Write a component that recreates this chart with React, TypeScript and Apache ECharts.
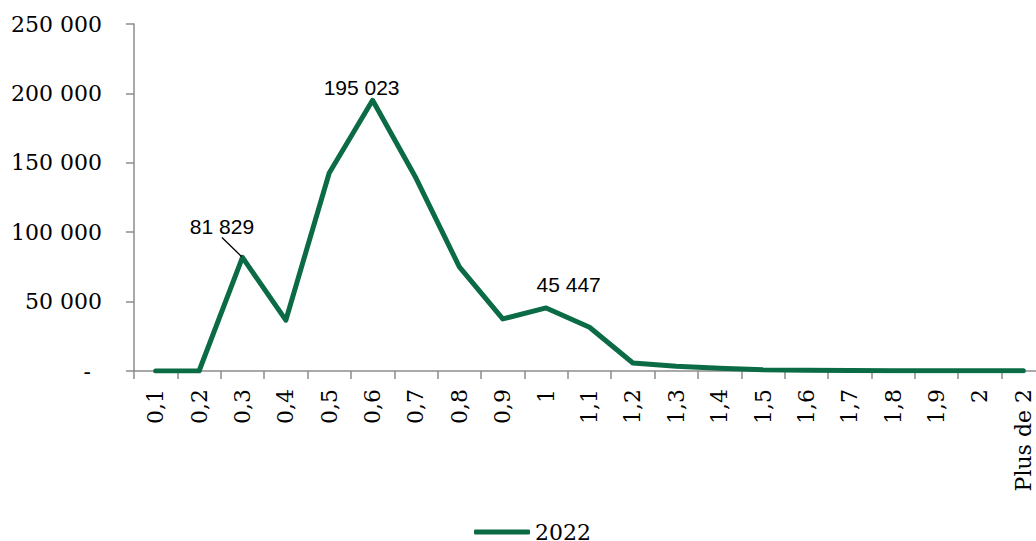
import React, { useEffect, useRef } from "react";
import * as echarts from "echarts";

const categories = ["0,1", "0,2", "0,3", "0,4", "0,5", "0,6", "0,7", "0,8", "0,9", "1", "1,1", "1,2", "1,3", "1,4", "1,5", "1,6", "1,7", "1,8", "1,9", "2", "Plus de 2"];
const values2022 = [0, 0, 81829, 36600, 142700, 195023, 139000, 75000, 37500, 45447, 31500, 5800, 3500, 2000, 900, 500, 300, 200, 100, 100, 100];
const labelledIndices = [2, 5, 9];
const seriesName = "2022";

const fmt = (v: number) => (v === 0 ? "-\u2002" : String(Math.round(v)).replace(/\B(?=(\d{3})+(?!\d))/g, " "));

// label placement relative to its point (dx, dy of label centre)
const labelShift: Record<number, [number, number]> = { 2: [-20.5, -30.5], 5: [-11, -13], 9: [22.5, -23.5] };

export default function App() {
  const ref = useRef<HTMLDivElement>(null);
  useEffect(() => {
    if (!ref.current) return;
    const chart = echarts.init(ref.current, undefined, { renderer: "svg" });
    const serif = "DejaVu Serif";
    const data = values2022.map((v, i) => {
      if (!labelledIndices.includes(i)) return v;
      const item: any = {
        value: v,
        label: { show: true, position: "top", formatter: fmt(v), fontFamily: "Liberation Sans", fontSize: 21, color: "#000" },
      };
      if (i === 2) {
        item.labelLine = { show: true, lineStyle: { color: "#000", width: 1.3 } };
      }
      return item;
    });
    chart.setOption({
      animation: false,
      grid: { left: 134, width: 911, top: 24, bottom: 170, outerBoundsMode: "none", containLabel: false },
      legend: {
        data: [{ name: seriesName, icon: "roundRect" }],
        top: 516,
        left: 469,
        itemWidth: 56,
        itemHeight: 5,
        itemGap: 4,
        textStyle: { fontFamily: serif, fontSize: 22, lineHeight: 19, color: "#000" },
      },
      xAxis: {
        type: "category",
        data: categories,
        boundaryGap: true,
        axisLine: { lineStyle: { color: "#8c8c8c", width: 1.5 } },
        axisTick: { show: true, length: 8, alignWithLabel: false, lineStyle: { color: "#8c8c8c", width: 1.5 } },
        axisLabel: { rotate: 90, margin: 18, interval: 0, fontFamily: serif, fontSize: 22, color: "#000" },
      },
      yAxis: {
        type: "value",
        min: 0,
        max: 250000,
        interval: 50000,
        splitLine: { show: false },
        axisLine: { show: true, lineStyle: { color: "#8c8c8c", width: 1.5 } },
        axisTick: { show: true, length: 8, lineStyle: { color: "#8c8c8c", width: 1.5 } },
        axisLabel: { margin: 32, fontFamily: serif, fontSize: 22, color: "#000", formatter: (v: number) => fmt(v) },
      },
      series: [
        {
          name: seriesName,
          type: "line",
          data,
          showSymbol: true,
          symbol: "circle",
          symbolSize: 2,
          color: "#0b6b45",
          itemStyle: { color: "#0b6b45" },
          lineStyle: { color: "#0b6b45", width: 5, cap: "round", join: "round" },
          labelLayout: (p: any) => {
            const s = labelShift[p.dataIndex];
            if (!s) return {};
            const cx = p.rect.x + p.rect.width / 2;
            const cy = p.rect.y + p.rect.height / 2;
            const res: any = { x: cx + s[0], y: cy + s[1], align: "center", verticalAlign: "middle" };
            if (p.dataIndex === 2) {
              res.labelLinePoints = [
                [cx - 23.3, cy - 15.8],
                [cx - 12, cy - 8.5],
                [cx, cy - 1],
              ];
            }
            return res;
          },
        },
      ],
    });
    return () => chart.dispose();
  }, []);
  return <div ref={ref} style={{ position: "absolute", left: 0, top: 0, width: 1036, height: 541, background: "#fff" }} />;
}
